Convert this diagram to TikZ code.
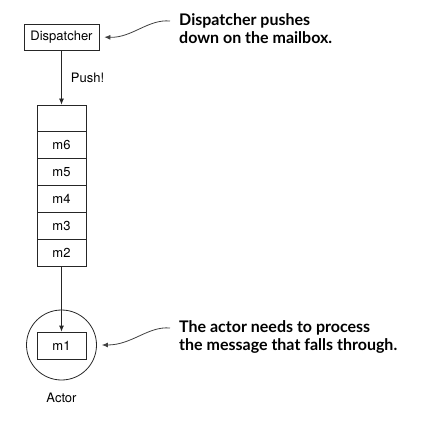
\documentclass[tikz,border=0pt]{standalone}
\usepackage{fontspec}
\setmainfont{TeX Gyre Heros}
\newfontfamily\calloutfont{Lato}
\newcommand\boxfont{\fontsize{13pt}{15pt}\selectfont}
\usetikzlibrary{arrows.meta}
\begin{document}
\begin{tikzpicture}[x=1pt,y=1pt,
  box/.style={draw=black!85,line width=0.8pt,rectangle,inner sep=0pt,font=\boxfont},
  slot/.style={box,minimum width=49pt,minimum height=26.9pt},
  push/.style={draw=black!85,line width=0.8pt,-{Latex[length=6pt,width=5pt]}},
  callarrow/.style={draw=black!75,line width=0.8pt,-{Latex[length=6pt,width=5pt]},shorten >=5pt},
  callout/.style={font=\calloutfont\bfseries\fontsize{16pt}{18.5pt}\selectfont,align=left,anchor=north west,inner sep=0pt},
  plain/.style={font=\boxfont,inner sep=0pt}]
\useasboundingbox (0,0) rectangle (436,-430);
\node[box,minimum width=75pt,minimum height=26pt] (disp) at (61.5,-37) {Dispatcher};
\node[slot] (s0) at (61.5,-118.45) {};
\node[slot] (s6) at (61.5,-145.35) {m6};
\node[slot] (s5) at (61.5,-172.25) {m5};
\node[slot] (s4) at (61.5,-199.15) {m4};
\node[slot] (s3) at (61.5,-226.05) {m3};
\node[slot] (s2) at (61.5,-252.95) {m2};
\node[draw=black!85,line width=0.8pt,circle,minimum size=70pt,inner sep=0pt] (actor) at (61.5,-345) {};
\node[slot,minimum height=27pt] (m1) at (61.5,-345.5) {m1};
\node[plain] (actorlbl) at (61.5,-398) {Actor};
\draw[push] (disp.south) -- node[plain,right=9pt] (pushlbl) {Push!} (s0.north);
\draw[push] (s2.south) -- (m1.north);
\node[callout] (c1) at (179,-13) {Dispatcher pushes\\down on the mailbox.};
\node[callout] (c2) at (179,-320) {The actor needs to process\\the message that falls through.};
\coordinate (c1s) at (170,-21);
\coordinate (c2s) at (170,-328);
\draw[callarrow] (c1s) .. controls (148,-19) and (132,-38) .. (disp.east);
\draw[callarrow] (c2s) .. controls (148,-326) and (132,-345) .. (actor.east);
\end{tikzpicture}
\end{document}
